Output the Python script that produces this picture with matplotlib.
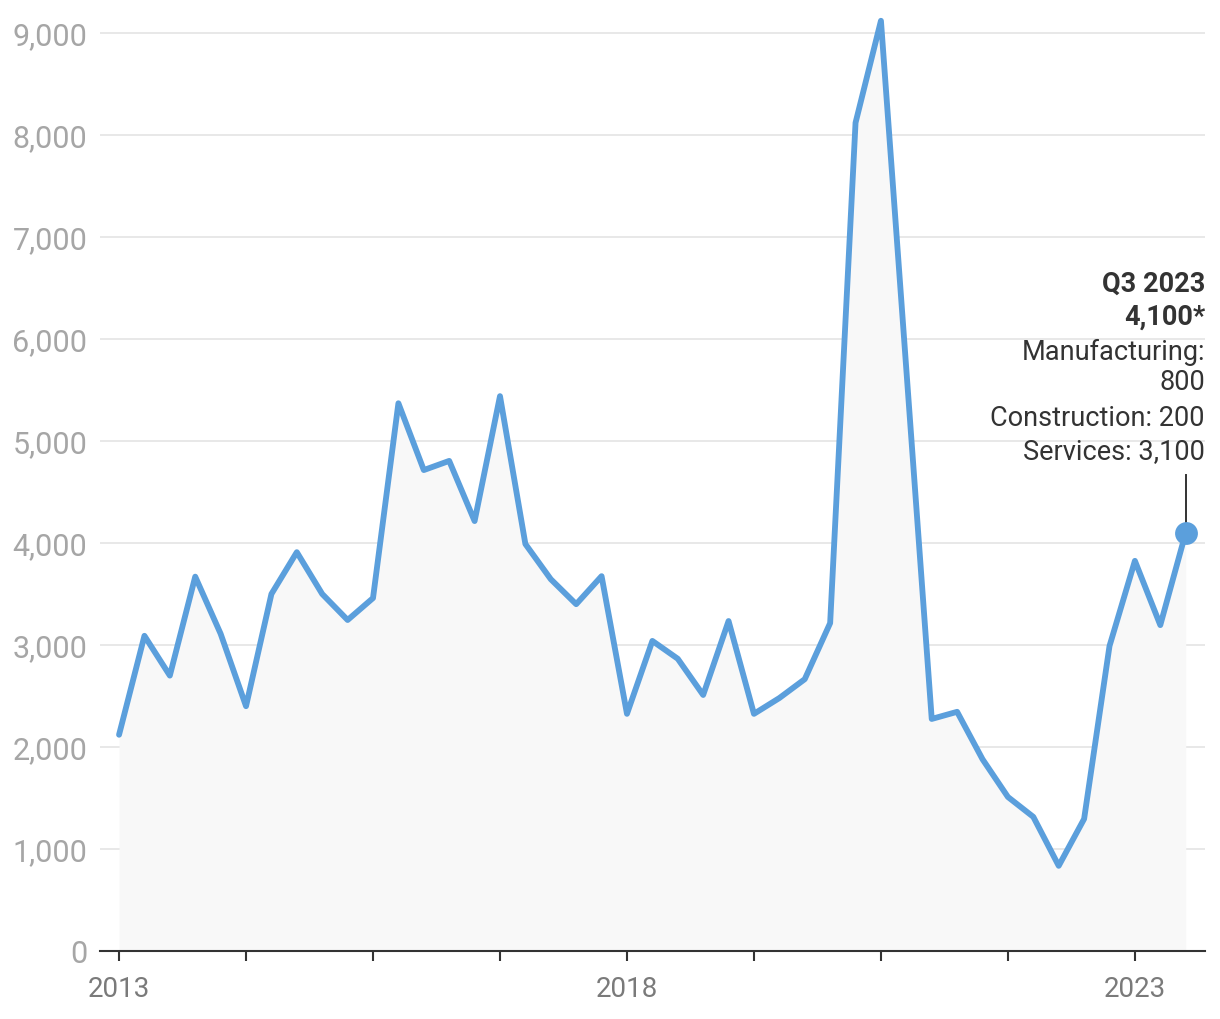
import matplotlib.pyplot as plt
from matplotlib.ticker import FuncFormatter

plt.rcParams['font.family'] = ['Roboto', 'DejaVu Sans']

# quarterly values, Q1 2013 .. Q3 2023
quarters = list(range(43))
values = [
    2120, 3090, 2700, 3670, 3110, 2400, 3500, 3910, 3500, 3245, 3460,
    5370, 4715, 4805, 4215, 5440, 3990, 3645, 3400, 3675,
    2325, 3040, 2865, 2510, 3235, 2325, 2480, 2665, 3215,
    8120, 9120, 5700, 2275, 2345, 1880, 1510, 1315, 835, 1295,
    2990, 3825, 3195, 4100,
]
year_tick_pos = [0, 5, 10, 15, 20, 25, 30, 35, 40]
year_tick_labels = ['2013', '', '', '', '2018', '', '', '', '2023']
y_ticks = [0, 1000, 2000, 3000, 4000, 5000, 6000, 7000, 8000, 9000]
note_lines = ['Q3 2023', '4,100*', 'Manufacturing:', '800',
              'Construction: 200', 'Services: 3,100']

W, H = 1220, 1020
fig = plt.figure(figsize=(W / 100, H / 100), dpi=100)
ax_top, ax_bottom = 13.6, 952
ax = fig.add_axes([100 / W, (H - ax_bottom) / H, 1105 / W, (ax_bottom - ax_top) / H])

line_col = '#5b9fdc'
ax.fill_between(quarters, 0, values, color='#f8f8f8', lw=0, zorder=1)
ax.plot(quarters, values, color=line_col, lw=4.2, solid_joinstyle='round',
        solid_capstyle='round', zorder=3)
ax.scatter([quarters[-1]], [values[-1]], s=270, color=line_col, zorder=4, lw=0)

ax.set_xlim(-0.75, 42.76)
ax.set_ylim(0, 9200)

ax.set_yticks(y_ticks)
ax.yaxis.set_major_formatter(FuncFormatter(lambda v, p: f'{int(v):,}'))
ax.tick_params(axis='y', length=0, pad=9, labelsize=22, labelcolor='#a6a6a6')
for yv in y_ticks[1:]:
    ax.axhline(yv, color='#e6e6e6', lw=1.3, zorder=0)

ax.set_xticks(year_tick_pos)
ax.set_xticklabels(year_tick_labels)
ax.tick_params(axis='x', length=7, width=1.5, color='#333333', pad=10,
               labelsize=20, labelcolor='#7a7a7a')

for s in ['top', 'right', 'left']:
    ax.spines[s].set_visible(False)
ax.spines['bottom'].set_color('#333333')
ax.spines['bottom'].set_linewidth(1.5)


def frac(ypix):
    return (ax_bottom - ypix) / (ax_bottom - ax_top)


baselines = [292, 325, 360, 390, 426, 459]
for i, (txt, yb) in enumerate(zip(note_lines, baselines)):
    ax.text(1.0, frac(yb), txt, transform=ax.transAxes, ha='right', va='baseline',
            fontsize=19.5, color='#333333', fontweight='bold' if i < 2 else 'normal')

ax.plot([quarters[-1], quarters[-1]], [values[-1], 4100 + (534 - 476) / 102 * 1000],
        color='#333333', lw=1.4, zorder=2)

fig.savefig('out.png', dpi=100)
